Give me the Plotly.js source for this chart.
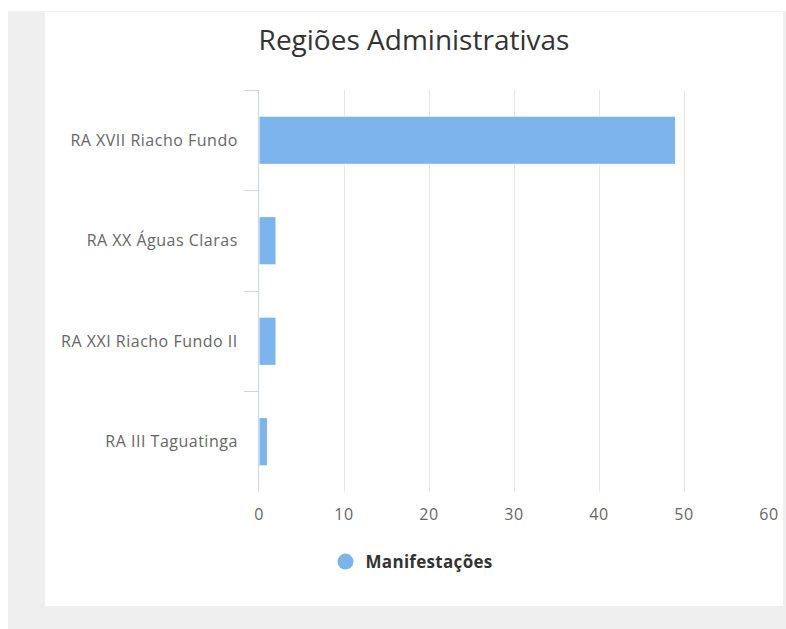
<!DOCTYPE html>
<html>
<head>
<meta charset="utf-8">
<script src="https://cdn.plot.ly/plotly-3.0.1.min.js"></script>
<style>
  html, body { margin: 0; padding: 0; background: #ffffff; width: 786px; height: 629px; overflow: hidden; }
  #bg { position: absolute; left: 8px; top: 11px; width: 778px; height: 618px; background: #efefef; }
  #chart { position: absolute; left: 45px; top: 12px; width: 738px; height: 594px; background: #ffffff; }
  #chart .ytick text, #chart .xtick text { letter-spacing: 0.5px; }
  #chart .legendtext { letter-spacing: 0.3px; }
</style>
</head>
<body>
<div id="bg"></div>
<div id="chart"></div>
<script>
const categories = ["RA XVII Riacho Fundo", "RA XX Águas Claras", "RA XXI Riacho Fundo II", "RA III Taguatinga"];
const manifestacoes = [49, 2, 2, 1];
const xTicks = [0, 10, 20, 30, 40, 50, 60];
const seriesName = "Manifestações";
const chartTitle = "Regiões Administrativas";

const barColor = "#7cb5ec";
const tickFont = { family: "Open Sans, sans-serif", size: 16, color: "#666666" };

const traces = [
  {
    type: "bar",
    orientation: "h",
    x: manifestacoes,
    y: categories,
    width: 0.48,
    marker: { color: barColor, line: { color: "#ffffff", width: 1 } },
    showlegend: false,
    hoverinfo: "x+y"
  },
  {
    type: "scatter",
    mode: "markers",
    x: [null],
    y: [null],
    name: seriesName,
    marker: { color: barColor, size: 16, symbol: "circle" },
    showlegend: true
  }
];

const layout = {
  width: 738,
  height: 594,
  paper_bgcolor: "#ffffff",
  plot_bgcolor: "#ffffff",
  margin: { l: 214, r: 14, t: 78, b: 114 },
  title: {
    text: chartTitle,
    font: { family: "Open Sans, sans-serif", size: 28, color: "#333333" },
    x: 0.5, xref: "container", xanchor: "center",
    y: 1 - 28 / 594, yref: "container", yanchor: "middle"
  },
  xaxis: {
    range: [0, 60],
    tickvals: xTicks,
    ticktext: xTicks.map(String),
    showgrid: true,
    gridcolor: "#e6e6e6",
    gridwidth: 1,
    zeroline: false,
    showline: false,
    ticks: "",
    tickfont: tickFont,
    ticklabelstandoff: 11,
    fixedrange: true
  },
  yaxis: {
    type: "category",
    categoryorder: "array",
    categoryarray: categories,
    autorange: "reversed",
    showgrid: false,
    zeroline: false,
    showline: true,
    linecolor: "#ccd6eb",
    linewidth: 1,
    ticks: "outside",
    tickson: "boundaries",
    ticklen: 14,
    tickcolor: "#ccd6eb",
    tickwidth: 1,
    tickfont: tickFont,
    ticklabelstandoff: 17,
    fixedrange: true
  },
  legend: {
    orientation: "h",
    xref: "container",
    x: 0.4946,
    xanchor: "center",
    yref: "container",
    y: 1 - 550 / 594,
    yanchor: "middle",
    font: { family: "Open Sans, sans-serif", size: 17, color: "#333333", weight: "bold" },
    itemsizing: "trace"
  },
  showlegend: true
};

Plotly.newPlot("chart", traces, layout, { displayModeBar: false });
</script>
</body>
</html>
